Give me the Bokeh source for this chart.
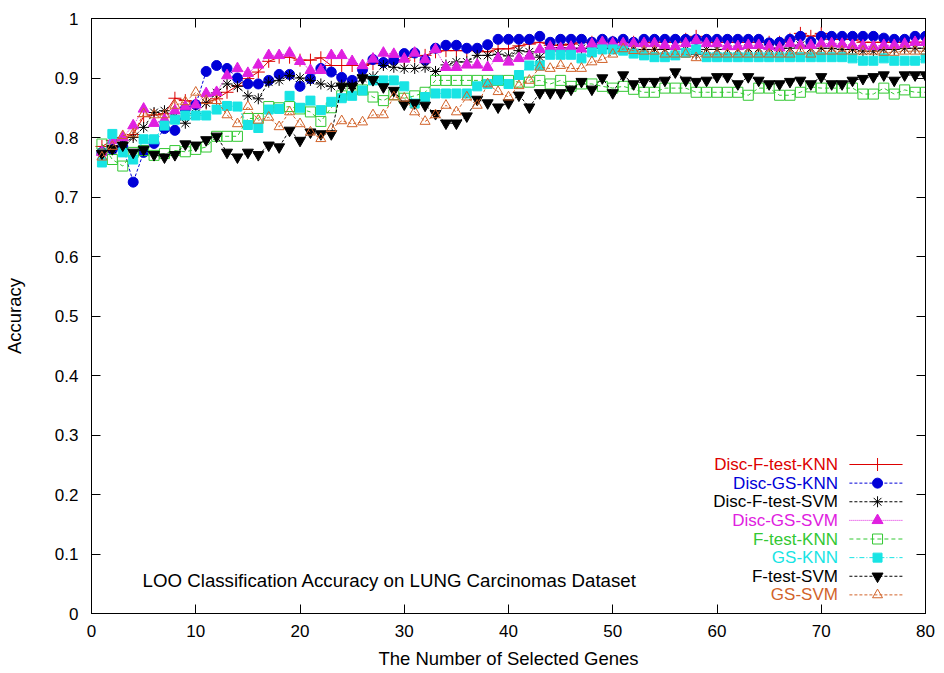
from bokeh.plotting import figure
from bokeh.models import Range1d, LinearAxis, FixedTicker, Label, CustomLabelingPolicy
from bokeh.embed import file_html
from bokeh.resources import INLINE

genes = list(range(1, 81))

disc_ftest_knn = [
    0.785, 0.795, 0.800, 0.805, 0.835, 0.838, 0.840, 0.866, 0.862, 0.858,
    0.858, 0.865, 0.876, 0.887, 0.899, 0.910, 0.928, 0.935, 0.935, 0.930,
    0.930, 0.934, 0.921, 0.921, 0.921, 0.921, 0.924, 0.925, 0.930, 0.930,
    0.937, 0.938, 0.944, 0.946, 0.946, 0.946, 0.946, 0.944, 0.949, 0.949,
    0.954, 0.957, 0.960, 0.955, 0.955, 0.957, 0.960, 0.960, 0.960, 0.960,
    0.960, 0.960, 0.960, 0.960, 0.960, 0.960, 0.965, 0.970, 0.960, 0.960,
    0.960, 0.960, 0.960, 0.960, 0.960, 0.960, 0.965, 0.975, 0.970, 0.975,
    0.965, 0.965, 0.965, 0.960, 0.960, 0.960, 0.960, 0.960, 0.960, 0.960]

disc_gs_knn = [
    0.775, 0.780, 0.785, 0.725, 0.775, 0.790, 0.815, 0.812, 0.848, 0.855,
    0.911, 0.921, 0.916, 0.900, 0.890, 0.890, 0.896, 0.906, 0.906, 0.886,
    0.899, 0.916, 0.910, 0.901, 0.896, 0.914, 0.931, 0.926, 0.930, 0.941,
    0.942, 0.930, 0.950, 0.955, 0.955, 0.950, 0.950, 0.956, 0.965, 0.965,
    0.965, 0.965, 0.970, 0.960, 0.965, 0.965, 0.965, 0.960, 0.965, 0.961,
    0.965, 0.960, 0.965, 0.965, 0.965, 0.965, 0.965, 0.965, 0.965, 0.965,
    0.965, 0.965, 0.965, 0.965, 0.959, 0.960, 0.965, 0.970, 0.961, 0.970,
    0.970, 0.970, 0.970, 0.970, 0.970, 0.967, 0.965, 0.965, 0.970, 0.970]

disc_ftest_svm = [
    0.772, 0.780, 0.790, 0.800, 0.817, 0.842, 0.845, 0.836, 0.824, 0.840,
    0.858, 0.875, 0.890, 0.886, 0.870, 0.865, 0.893, 0.896, 0.904, 0.900,
    0.896, 0.890, 0.886, 0.888, 0.888, 0.900, 0.902, 0.921, 0.918, 0.916,
    0.916, 0.918, 0.911, 0.922, 0.927, 0.927, 0.938, 0.938, 0.940, 0.937,
    0.946, 0.944, 0.935, 0.951, 0.951, 0.950, 0.950, 0.950, 0.950, 0.950,
    0.950, 0.948, 0.948, 0.948, 0.948, 0.948, 0.948, 0.940, 0.948, 0.948,
    0.948, 0.948, 0.950, 0.950, 0.950, 0.950, 0.950, 0.955, 0.950, 0.950,
    0.950, 0.948, 0.948, 0.945, 0.945, 0.948, 0.948, 0.950, 0.950, 0.950]

disc_gs_svm = [
    0.775, 0.795, 0.800, 0.820, 0.848, 0.824, 0.830, 0.845, 0.852, 0.855,
    0.874, 0.876, 0.904, 0.916, 0.908, 0.922, 0.938, 0.938, 0.942, 0.928,
    0.913, 0.913, 0.938, 0.938, 0.928, 0.921, 0.932, 0.942, 0.940, 0.932,
    0.942, 0.931, 0.948, 0.918, 0.918, 0.922, 0.922, 0.918, 0.933, 0.927,
    0.933, 0.937, 0.948, 0.952, 0.950, 0.952, 0.949, 0.957, 0.960, 0.958,
    0.958, 0.958, 0.958, 0.958, 0.955, 0.953, 0.958, 0.963, 0.958, 0.958,
    0.953, 0.953, 0.955, 0.955, 0.953, 0.951, 0.958, 0.955, 0.955, 0.958,
    0.958, 0.957, 0.955, 0.954, 0.953, 0.955, 0.955, 0.957, 0.960, 0.960]

ftest_knn = [
    0.789, 0.763, 0.752, 0.775, 0.778, 0.770, 0.773, 0.778, 0.776, 0.780,
    0.784, 0.802, 0.802, 0.802, 0.832, 0.832, 0.852, 0.850, 0.852, 0.848,
    0.843, 0.827, 0.850, 0.870, 0.880, 0.880, 0.868, 0.862, 0.872, 0.866,
    0.870, 0.876, 0.896, 0.896, 0.896, 0.896, 0.896, 0.896, 0.896, 0.896,
    0.893, 0.893, 0.896, 0.890, 0.896, 0.886, 0.890, 0.890, 0.886, 0.883,
    0.886, 0.881, 0.876, 0.876, 0.883, 0.883, 0.883, 0.876, 0.876, 0.876,
    0.876, 0.876, 0.871, 0.883, 0.883, 0.871, 0.871, 0.876, 0.885, 0.883,
    0.883, 0.883, 0.883, 0.873, 0.873, 0.883, 0.873, 0.880, 0.876, 0.876]

gs_knn = [
    0.758, 0.806, 0.775, 0.763, 0.797, 0.797, 0.820, 0.830, 0.837, 0.837,
    0.837, 0.847, 0.853, 0.852, 0.821, 0.816, 0.847, 0.848, 0.870, 0.850,
    0.862, 0.846, 0.860, 0.866, 0.870, 0.879, 0.896, 0.896, 0.896, 0.886,
    0.857, 0.868, 0.874, 0.874, 0.874, 0.874, 0.886, 0.890, 0.896, 0.890,
    0.905, 0.921, 0.921, 0.939, 0.939, 0.939, 0.933, 0.943, 0.948, 0.948,
    0.946, 0.941, 0.938, 0.935, 0.935, 0.938, 0.942, 0.948, 0.935, 0.935,
    0.935, 0.935, 0.935, 0.935, 0.935, 0.935, 0.935, 0.935, 0.935, 0.935,
    0.935, 0.935, 0.933, 0.929, 0.929, 0.933, 0.929, 0.929, 0.929, 0.933]

ftest_svm = [
    0.773, 0.781, 0.787, 0.775, 0.780, 0.771, 0.767, 0.771, 0.789, 0.787,
    0.796, 0.802, 0.775, 0.767, 0.775, 0.771, 0.787, 0.784, 0.812, 0.795,
    0.809, 0.806, 0.806, 0.886, 0.886, 0.900, 0.897, 0.885, 0.879, 0.856,
    0.858, 0.854, 0.840, 0.824, 0.824, 0.836, 0.864, 0.858, 0.851, 0.858,
    0.871, 0.851, 0.875, 0.875, 0.875, 0.881, 0.894, 0.881, 0.900, 0.875,
    0.905, 0.890, 0.894, 0.894, 0.896, 0.910, 0.896, 0.894, 0.896, 0.902,
    0.902, 0.890, 0.902, 0.896, 0.890, 0.890, 0.894, 0.896, 0.890, 0.902,
    0.890, 0.890, 0.896, 0.899, 0.902, 0.905, 0.896, 0.905, 0.905, 0.905]

gs_svm = [
    0.767, 0.785, 0.803, 0.806, 0.840, 0.838, 0.838, 0.854, 0.860, 0.876,
    0.862, 0.862, 0.838, 0.823, 0.852, 0.829, 0.834, 0.818, 0.843, 0.823,
    0.809, 0.798, 0.815, 0.828, 0.823, 0.826, 0.838, 0.838, 0.868, 0.866,
    0.843, 0.827, 0.838, 0.854, 0.843, 0.868, 0.854, 0.890, 0.877, 0.868,
    0.887, 0.896, 0.918, 0.916, 0.921, 0.916, 0.916, 0.927, 0.931, 0.940,
    0.949, 0.946, 0.945, 0.945, 0.940, 0.940, 0.940, 0.934, 0.940, 0.940,
    0.940, 0.940, 0.940, 0.940, 0.940, 0.940, 0.940, 0.945, 0.940, 0.945,
    0.945, 0.945, 0.945, 0.945, 0.945, 0.943, 0.943, 0.945, 0.945, 0.945]

series_names = ["Disc-F-test-KNN", "Disc-GS-KNN", "Disc-F-test-SVM", "Disc-GS-SVM",
                "F-test-KNN", "GS-KNN", "F-test-SVM", "GS-SVM"]
series_values = [disc_ftest_knn, disc_gs_knn, disc_ftest_svm, disc_gs_svm,
                 ftest_knn, gs_knn, ftest_svm, gs_svm]

x_ticks = [0, 10, 20, 30, 40, 50, 60, 70, 80]
y_ticks = [0, 0.1, 0.2, 0.3, 0.4, 0.5, 0.6, 0.7, 0.8, 0.9, 1]

chart_title = "LOO Classification Accuracy on LUNG Carcinomas Dataset"

# styles: (color, dash, marker, marker size, filled)
styles = [
    ("#dd0000", "solid", "cross", 13, True),
    ("#0000d8", "3 2", "circle", 10, True),
    ("#000000", "3 2", "asterisk", 11, True),
    ("#e020e0", "1 1", "triangle", 11, True),
    ("#33c833", "4 3", "square", 10, False),
    ("#18e4e4", "5 2 1 2", "square", 9, True),
    ("#000000", "3 2", "inverted_triangle", 11, True),
    ("#d2632a", "3 2", "triangle", 10, False),
]

FONT = "Liberation Sans"

p = figure(frame_width=834, frame_height=595,
           min_border_left=91, min_border_top=18, min_border_right=19, min_border_bottom=58,
           x_range=Range1d(0, 80), y_range=Range1d(0, 1),
           output_backend="svg", toolbar_location=None)
p.grid.visible = False
p.outline_line_color = "black"
p.outline_line_width = 1
p.background_fill_color = "white"
p.border_fill_color = "white"

for ax, ticks in ((p.xaxis[0], x_ticks), (p.yaxis[0], y_ticks)):
    ax.ticker = FixedTicker(ticks=ticks)
    ax.major_tick_in = 9
    ax.major_tick_out = 0
    ax.minor_tick_line_color = None
    ax.major_label_text_font = FONT
    ax.major_label_text_font_size = "17px"
    ax.major_label_text_color = "black"
    ax.axis_label_text_font = FONT
    ax.axis_label_text_font_size = "18.5px"
    ax.axis_label_text_font_style = "normal"
    ax.axis_label_text_color = "black"
    ax.axis_line_color = "black"

p.yaxis[0].major_label_overrides = {0: "0", 1: "1"}
p.xaxis[0].axis_label = "The Number of Selected Genes"
p.yaxis[0].axis_label = "Accuracy"
p.xaxis[0].major_label_standoff = 11
p.xaxis[0].axis_label_standoff = 8
p.yaxis[0].major_label_standoff = 13
p.yaxis[0].axis_label_standoff = 27

hide_labels = CustomLabelingPolicy(
    code="const a = [...indices]; for (const i of a) { indices.unset(i) }; return indices")

for loc, ticks in (("right", y_ticks), ("above", x_ticks)):
    ax = LinearAxis(ticker=FixedTicker(ticks=ticks), major_label_policy=hide_labels)
    ax.major_tick_in = 9
    ax.major_tick_out = 0
    ax.minor_tick_line_color = None
    ax.major_label_standoff = 0
    ax.axis_line_color = "black"
    p.add_layout(ax, loc)

for vals, (color, dash, marker, size, filled) in zip(series_values, styles):
    p.line(genes, vals, line_color=color, line_width=1, line_dash=dash)
    p.scatter(genes, vals, marker=marker, size=size, line_color=color, line_width=1,
              fill_color=color if filled else None)

# legend (gnuplot style: text right-aligned, sample on the right)
LEG_TEXT_X = 71.6
LEG_X0, LEG_X1, LEG_MX = 72.7, 77.8, 75.4
LEG_Y0, LEG_DY = 0.2504, 0.0313
for i, (name, (color, dash, marker, size, filled)) in enumerate(zip(series_names, styles)):
    yy = LEG_Y0 - i * LEG_DY
    p.add_layout(Label(x=LEG_TEXT_X, y=yy, text=name, text_align="right",
                       text_baseline="middle", text_font=FONT, text_font_size="17px",
                       text_color=color))
    p.line([LEG_X0, LEG_X1], [yy, yy], line_color=color, line_width=1, line_dash=dash)
    p.scatter([LEG_MX], [yy], marker=marker, size=size, line_color=color, line_width=1,
              fill_color=color if filled else None)

p.add_layout(Label(x=4.9, y=0.0555, text=chart_title, text_align="left",
                   text_baseline="middle", text_font=FONT, text_font_size="18.7px",
                   text_color="black"))

open("out.html", "w").write(file_html(p, INLINE))
